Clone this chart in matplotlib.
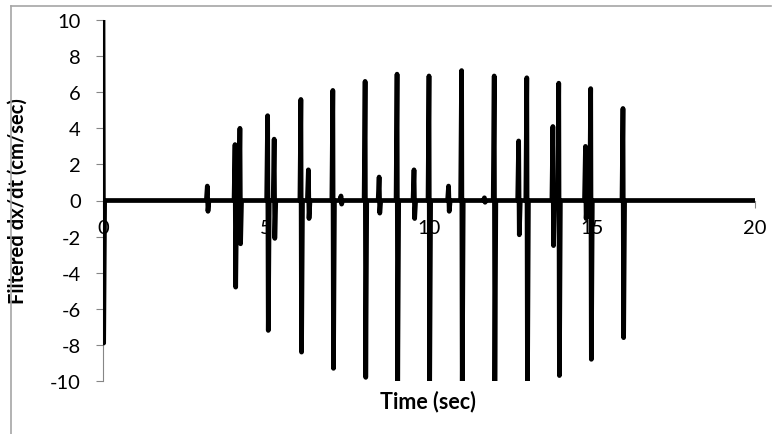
import matplotlib
matplotlib.use("Agg")
import matplotlib.pyplot as plt
from matplotlib.lines import Line2D
import numpy as np

# spike events: time (sec), positive peak, negative peak
spike_t = [0.0, 3.2, 4.05, 4.2, 5.05, 5.25, 6.07, 6.3, 7.05, 7.3, 8.04, 8.47,
           9.02, 9.54, 10.0, 10.6, 11.0, 11.7, 12.0, 12.75, 13.0, 13.8, 13.98,
           14.8, 14.96, 15.95]
spike_up = [10.5, 0.8, 3.1, 4.0, 4.7, 3.4, 5.6, 1.7, 6.1, 0.25, 6.6, 1.3,
            7.0, 1.7, 6.9, 0.8, 7.2, 0.15, 6.9, 3.3, 6.8, 4.1, 6.5,
            3.0, 6.2, 5.1]
spike_down = [-7.9, -0.6, -4.8, -2.4, -7.2, -2.1, -8.4, -1.0, -9.3, -0.2, -9.8, -0.7,
              -10.0, -1.0, -10.5, -0.6, -10.5, -0.1, -10.5, -1.9, -10.5, -2.5, -9.7,
              -1.0, -8.8, -7.6]
t_end = 20.0

xticks = [0, 5, 10, 15, 20]
yticks = [-10, -8, -6, -4, -2, 0, 2, 4, 6, 8, 10]

# build the trace: flat baseline with each spike going up then down
t, v = [], []
for ts, up, dn in zip(spike_t, spike_up, spike_down):
    if ts > 0:
        t.append(ts - 0.03); v.append(0.0)
    t += [ts, ts + 0.02, ts + 0.05]
    v += [up, dn, 0.0]
t.append(t_end); v.append(0.0)

plt.rcParams['font.family'] = ['Lato', 'DejaVu Sans']
plt.rcParams['axes.unicode_minus'] = False
gray = '#868686'

fig = plt.figure(figsize=(7.77, 4.35), dpi=100)
W, H = 777, 435
ax = fig.add_axes([103 / W, 1 - 382 / H, (755 - 103) / W, (382 - 21) / H])

ax.plot(t, v, color='black', lw=3.4, solid_joinstyle='round', solid_capstyle='round', zorder=3)

ax.set_xlim(0, 20)
ax.set_ylim(-10, 10)
ax.set_xticks(xticks)
ax.set_yticks(yticks)
ax.spines['top'].set_visible(False)
ax.spines['right'].set_visible(False)
ax.spines['bottom'].set_position(('data', 0))
for s in ['left', 'bottom']:
    ax.spines[s].set_color(gray)
    ax.spines[s].set_linewidth(0.8)
ax.tick_params(axis='both', direction='out', length=5, width=0.8, color=gray, labelsize=14.5, labelcolor='black')
ax.tick_params(axis='y', pad=11)
ax.tick_params(axis='x', pad=8)

ax.set_ylabel('Filtered dx/dt (cm/sec)', fontsize=14.5, fontweight='bold')
ax.yaxis.set_label_coords(-0.115, 0.5)
ax.set_xlabel('Time (sec)', fontsize=15.5, fontweight='bold', va='center')
ax.xaxis.set_label_coords(0.498, -0.055)

# chart area border (top and left edges visible)
fig.add_artist(Line2D([11 / W, 11 / W], [0, 1 - 7 / H], color='#a6a6a6', lw=1.2, transform=fig.transFigure))
fig.add_artist(Line2D([11 / W, 771 / W], [1 - 7 / H, 1 - 7 / H], color='#a6a6a6', lw=1.2, transform=fig.transFigure))

fig.savefig('out.png', dpi=100)
